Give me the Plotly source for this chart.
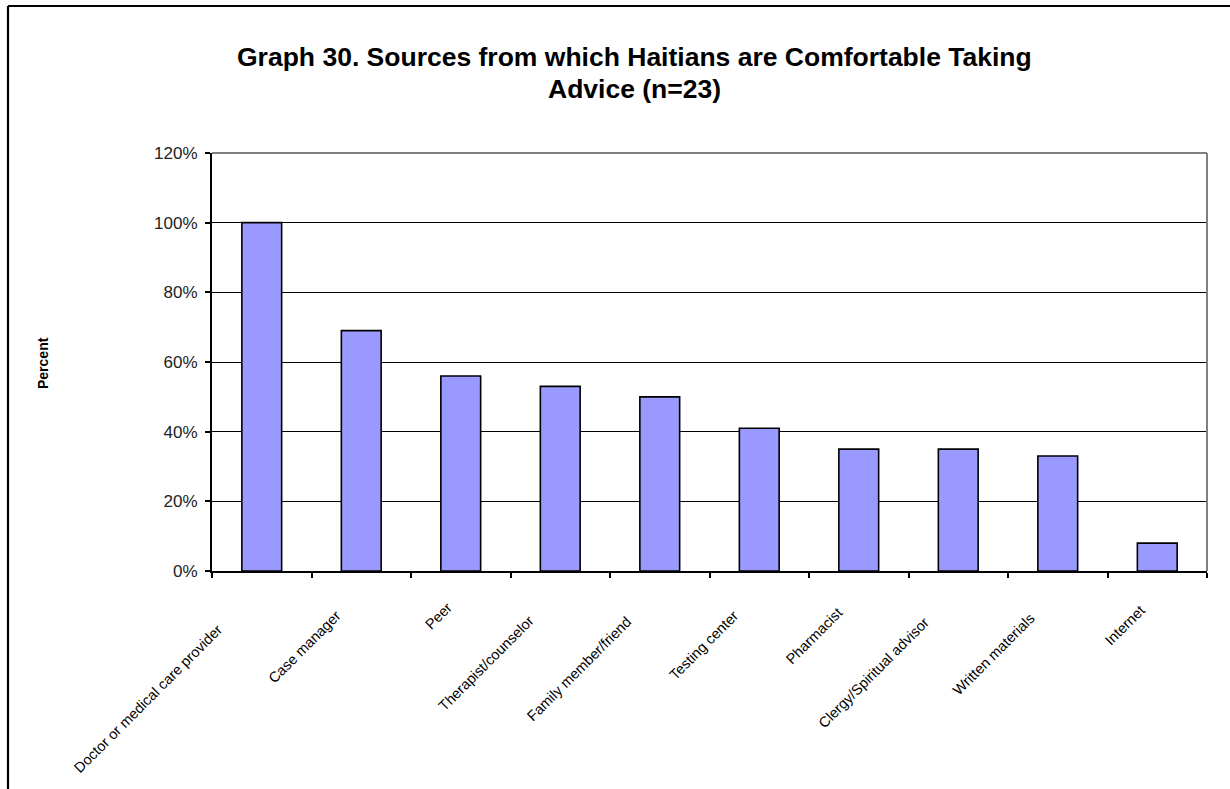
import plotly.graph_objects as go

# ---- data -------------------------------------------------------------
categories = [
    "Doctor or medical care provider",
    "Case manager",
    "Peer",
    "Therapist/counselor",
    "Family member/friend",
    "Testing center",
    "Pharmacist",
    "Clergy/Spiritual advisor",
    "Written materials",
    "Internet",
]
percent = [100, 69, 56, 53, 50, 41, 35, 35, 33, 8]
y_tick_values = [0, 20, 40, 60, 80, 100, 120]
y_tick_labels = ["0%", "20%", "40%", "60%", "80%", "100%", "120%"]
title_lines = [
    "Graph 30. Sources from which Haitians are Comfortable Taking",
    "Advice (n=23)",
]
y_title = "Percent"

# ---- page geometry (pixels) ------------------------------------------
W, H = 1230, 789
PL, PR, PT, PB = 212, 1207, 153, 571          # plot area edges
FONT = "Liberation Sans, Arial, Helvetica, sans-serif"
CAT_FONT_SIZE = 14.5


def px_x(px):
    """pixel x -> paper x"""
    return (px - PL) / (PR - PL)


def px_y(py):
    """pixel y -> paper y"""
    return (PB - py) / (PB - PT)


# approximate Arial advance widths (em) for placing rotated labels
_ARIAL = {
    "a": .556, "b": .556, "c": .5, "d": .556, "e": .556, "f": .278, "g": .556,
    "h": .556, "i": .222, "j": .222, "k": .5, "l": .222, "m": .833, "n": .556,
    "o": .556, "p": .556, "q": .556, "r": .333, "s": .5, "t": .278, "u": .556,
    "v": .5, "w": .722, "x": .5, "y": .5, "z": .5, " ": .278, "/": .278,
    "C": .722, "D": .722, "F": .611, "I": .278, "P": .667, "T": .611, "W": .944,
}


def text_width(s, size):
    return sum(_ARIAL.get(ch, .6) for ch in s) * size


fig = go.Figure()

fig.add_trace(go.Bar(
    x=categories,
    y=percent,
    width=0.4,
    marker=dict(color="#9999FF", line=dict(color="#000000", width=1.6)),
    hoverinfo="x+y",
))

# category labels, rotated 45 degrees and hung below each category centre
annotations = []
for cat in categories:
    L = text_width(cat, CAT_FONT_SIZE)
    # top-right end of the text, relative to the category centre on the axis
    end_dx = -(10 + 0.18 * L)
    end_dy = 26 + 0.13 * L
    cx = end_dx + 4 - 0.354 * L
    cy = end_dy + 4 + 0.354 * L
    annotations.append(dict(
        x=cat, y=0, xref="x", yref="y",
        text=cat, showarrow=False, textangle=-45,
        xanchor="center", yanchor="middle",
        xshift=cx, yshift=-cy,
        font=dict(family=FONT, size=CAT_FONT_SIZE, color="#000000"),
    ))

# two-line chart title
for line, py in zip(title_lines, [57, 89]):
    annotations.append(dict(
        x=px_x(634), y=px_y(py), xref="paper", yref="paper",
        text=f"<b>{line}</b>", showarrow=False,
        xanchor="center", yanchor="middle",
        font=dict(family=FONT, size=26.5, color="#000000"),
    ))

# y-axis title
annotations.append(dict(
    x=px_x(43), y=px_y(363), xref="paper", yref="paper",
    text=f"<b>{y_title}</b>", showarrow=False, textangle=-90,
    xanchor="center", yanchor="middle",
    font=dict(family=FONT, size=14, color="#000000"),
))

shapes = [
    # outer chart frame (left and top edges)
    dict(type="line", xref="paper", yref="paper",
         x0=px_x(8), x1=px_x(8), y0=px_y(6), y1=px_y(H + 10),
         line=dict(color="#000000", width=2.2)),
    dict(type="line", xref="paper", yref="paper",
         x0=px_x(8), x1=px_x(W + 10), y0=px_y(6), y1=px_y(6),
         line=dict(color="#000000", width=2.2)),
    # grey plot-area border (top and right)
    dict(type="line", xref="paper", yref="paper", layer="above",
         x0=0, x1=1, y0=1, y1=1, line=dict(color="#808080", width=2)),
    dict(type="line", xref="paper", yref="paper", layer="above",
         x0=1, x1=1, y0=0, y1=1, line=dict(color="#808080", width=2)),
]

fig.update_layout(
    width=W, height=H,
    margin=dict(l=PL, r=W - PR, t=PT, b=H - PB, pad=0),
    paper_bgcolor="#FFFFFF",
    plot_bgcolor="#FFFFFF",
    showlegend=False,
    bargap=0.6,
    font=dict(family=FONT, color="#000000"),
    annotations=annotations,
    shapes=shapes,
)

fig.update_xaxes(
    type="category",
    categoryorder="array", categoryarray=categories,
    range=[-0.5, len(categories) - 0.5],
    autorange=False,
    showticklabels=False,
    tickson="boundaries",
    ticks="outside", ticklen=5, tickwidth=1.5, tickcolor="#000000",
    showline=True, linecolor="#000000", linewidth=2,
    showgrid=False, zeroline=False,
)

fig.update_yaxes(
    range=[0, 120],
    autorange=False,
    tickvals=y_tick_values, ticktext=y_tick_labels,
    ticks="outside", ticklen=5, tickwidth=1.5, tickcolor="#000000",
    ticklabelstandoff=4,
    tickfont=dict(family=FONT, size=17, color="#222222"),
    showline=True, linecolor="#000000", linewidth=2,
    showgrid=True, gridcolor="#000000", gridwidth=1.4,
    zeroline=False,
)

fig.write_html("out.html")
